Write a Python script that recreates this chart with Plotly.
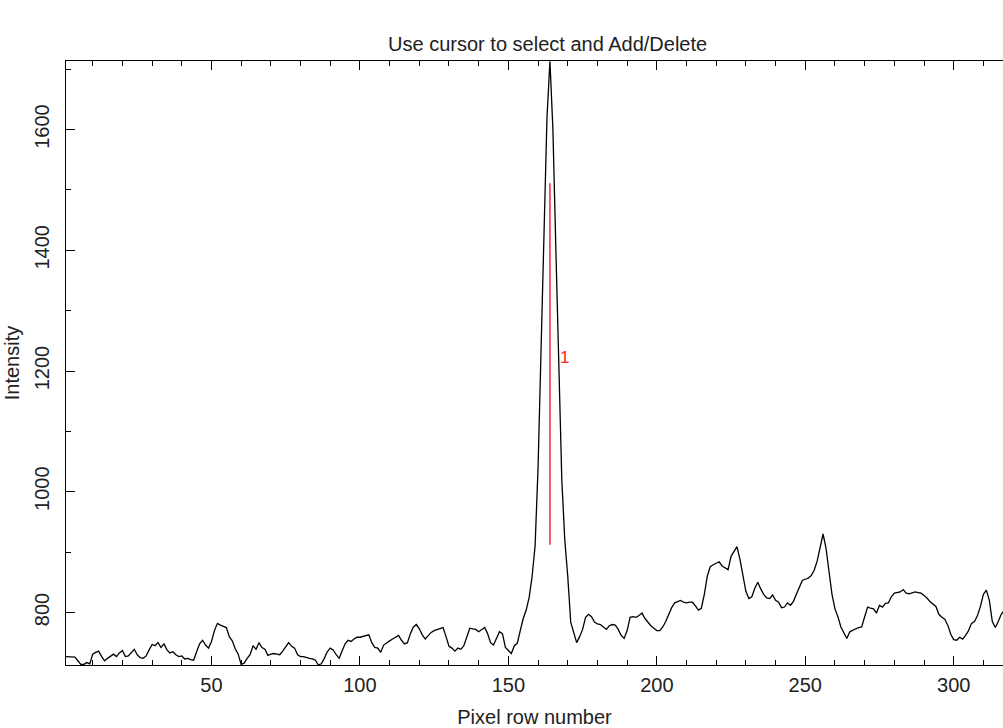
import plotly.graph_objects as go

# Pixel row numbers and measured intensities
pixel_rows = list(range(1, 318))
intensity = [
    727, 727, 727, 726, 720, 714, 714, 717, 715, 731,
    734, 736, 727, 720, 724, 728, 731, 727, 733, 737,
    727, 728, 734, 739, 730, 725, 724, 728, 738, 747,
    745, 750, 742, 748, 738, 733, 735, 730, 727, 728,
    723, 724, 722, 721, 735, 748, 754, 746, 741, 752,
    770, 782, 779, 777, 775, 760, 753, 740, 731, 714,
    716, 724, 730, 745, 739, 750, 742, 739, 729, 731,
    732, 731, 730, 736, 744, 750, 744, 741, 730, 727,
    727, 725, 724, 723, 721, 713, 715, 724, 735, 741,
    738, 730, 724, 736, 748, 754, 752, 756, 759, 759,
    760, 762, 763, 750, 742, 741, 734, 746, 750, 753,
    756, 759, 762, 754, 748, 750, 765, 776, 780, 773,
    763, 756, 762, 767, 770, 772, 773, 775, 760, 744,
    741, 736, 741, 739, 745, 760, 774, 773, 772, 768,
    771, 775, 765, 750, 746, 758, 768, 765, 742, 737,
    732, 745, 749, 770, 790, 804, 825, 860, 910, 1040,
    1230, 1440, 1620, 1713, 1600, 1400, 1190, 1020, 920, 860,
    784, 765, 750, 760, 772, 792, 797, 793, 784, 781,
    780, 776, 772, 778, 780, 779, 772, 762, 757, 770,
    792, 793, 792, 795, 799, 790, 784, 778, 774, 770,
    770, 776, 785, 797, 808, 816, 818, 820, 817, 816,
    817, 817, 811, 804, 807, 830, 860, 876, 879, 881,
    884, 877, 874, 871, 893, 902, 909, 888, 860, 835,
    823, 826, 840, 850, 839, 830, 824, 823, 829, 820,
    817, 808, 809, 816, 812, 818, 830, 842, 853, 855,
    857, 861, 870, 885, 905, 930, 906, 865, 830, 806,
    793, 776, 766, 757, 768, 771, 773, 775, 776, 793,
    809, 807, 806, 799, 812, 809, 815, 816, 826, 832,
    833, 834, 838, 832, 831, 833, 834, 833, 832, 828,
    824, 818, 814, 810, 797, 792, 789, 779, 764, 755,
    754, 759, 756, 762, 770, 782, 785, 795, 810, 830,
    837, 820, 785, 775, 785, 797, 803,
]

# Selected line marker
marker_x = [164, 164]
marker_y = [912, 1511]
marker_label = "1"
marker_label_pos = (169, 1223)

title_text = "Use cursor to select and Add/Delete"
x_title = "Pixel row number"
y_title = "Intensity"

FONT = "Liberation Sans"
TXT = "#222222"

fig = go.Figure()
fig.add_trace(go.Scatter(x=pixel_rows, y=intensity, mode="lines",
                         line=dict(color="black", width=1.3), showlegend=False,
                         hoverinfo="skip"))
fig.add_trace(go.Scatter(x=marker_x, y=marker_y, mode="lines",
                         line=dict(color="#ff2020", width=1.5), showlegend=False,
                         hoverinfo="skip"))
fig.add_annotation(x=marker_label_pos[0], y=marker_label_pos[1], text=marker_label,
                   showarrow=False, font=dict(family=FONT, size=17, color="#ff2020"),
                   xanchor="center", yanchor="middle")

fig.update_layout(
    width=1003, height=728,
    margin=dict(l=66, r=0, t=61, b=63),
    paper_bgcolor="white", plot_bgcolor="white",
    title=dict(text=title_text, x=0.546, xref="container", xanchor="center",
               y=1 - 44 / 728, yref="container", yanchor="middle",
               font=dict(family=FONT, size=20, color=TXT)),
    font=dict(family=FONT, size=20, color=TXT),
)
fig.update_xaxes(
    range=[1, 316.6], showgrid=False, zeroline=False,
    showline=True, linecolor="black", linewidth=1, mirror="allticks",
    ticks="inside", ticklen=9, tickcolor="black", tickwidth=1,
    tick0=0, dtick=50, ticklabelstandoff=2,
    minor=dict(ticks="inside", ticklen=5, dtick=10, tick0=0, tickcolor="black", showgrid=False),
    title=dict(text=x_title, standoff=16, font=dict(family=FONT, size=20, color=TXT)),
    tickfont=dict(family=FONT, size=20, color=TXT),
)
fig.update_yaxes(
    range=[713, 1713.5], showgrid=False, zeroline=False,
    showline=True, linecolor="black", linewidth=1, mirror=False,
    ticks="inside", ticklen=9, tickcolor="black", tickwidth=1,
    tick0=0, dtick=200, tickangle=-90, ticklabelstandoff=8,
    minor=dict(ticks="inside", ticklen=5, dtick=100, tick0=0, tickcolor="black", showgrid=False),
    title=dict(text=y_title, standoff=6, font=dict(family=FONT, size=20, color=TXT)),
    tickfont=dict(family=FONT, size=20, color=TXT),
)

fig.write_html("out.html")
